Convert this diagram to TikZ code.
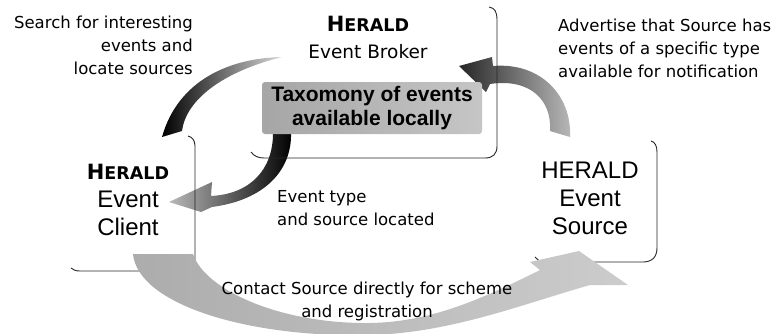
\documentclass[tikz,border=0pt]{standalone}
\usepackage{fontspec}
\setmainfont{DejaVu Sans}
\newfontfamily\arialfont{Liberation Sans}
\usetikzlibrary{positioning}

\newcommand\heraldsc{{\rmfamily\bfseries\fontsize{21}{28}\selectfont H\fontsize{17.5}{28}\selectfont ERALD}}

\tikzset{
  boxline/.style={line width=0.9pt, black!85},
  note/.style={font=\fontsize{16.5}{23}\selectfont, inner sep=0pt},
  title/.style={font=\arialfont\fontsize{24}{28}\selectfont, align=center, inner sep=0pt}
}

\begin{document}
\begin{tikzpicture}[x=1pt,y=-1pt]
    \useasboundingbox (0,0) rectangle (772,333);

    % arrow: Source advertises to Broker
    \shade[left color=black!85, right color=gray!55]
        (550,131) .. controls (552,100) and (530,78) .. (490,84)
        -- (486,92) -- (459,66) -- (492,57) -- (493,66)
        .. controls (540,62) and (572,95) .. (570,137) -- cycle;

    % arrow: Broker back to Client
    \shade[left color=gray!55, middle color=black!80, right color=black]
        (273,133) -- (291,133)
        .. controls (292,170) and (265,200) .. (212,207)
        -- (201,212) -- (169,202) -- (212,182) -- (211,196)
        .. controls (250,194) and (273,170) .. (273,133);

    % arrow: Client searches at Broker
    \shade[left color=black, middle color=black, right color=gray!30]
        (282,57) .. controls (230,58) and (178,80) .. (162,137)
        -- (182,131) .. controls (186,100) and (222,72) .. (282,57);

    % box edges
    \draw[boxline] (489,7) .. controls (495,8) and (497,12) .. (497,20)
        -- (497,146) .. controls (497,154) and (493,158) .. (485,158)
        -- (264,158) .. controls (258,158) and (254,156) .. (251,152);
    \draw[boxline] (188,136) .. controls (192,137) and (195,140) .. (195,146)
        -- (195,258) .. controls (195,266) and (191,271) .. (183,271)
        -- (80,271) .. controls (76,271) and (73,270) .. (71,268);
    \draw[boxline] (651,141) .. controls (655,142) and (657,146) .. (657,152)
        -- (657,248) .. controls (657,257) and (652,262) .. (643,262)
        -- (545,262) .. controls (540,262) and (537,260) .. (535,257);

    % arrow: Client contacts Source
    \shade[left color=gray!65, right color=gray!40]
        (133,254) .. controls (138,305) and (250,338) .. (370,335)
        .. controls (450,333) and (520,305) .. (590,285)
        -- (628,285) -- (579,251) -- (530,262) -- (540,270)
        .. controls (480,300) and (430,322) .. (370,323)
        .. controls (280,324) and (205,290) .. (193,254) -- cycle;

    \node (tax) [rounded corners=3pt, left color=gray!70, right color=gray!45,
        minimum width=220, minimum height=52, align=center,
        font=\arialfont\bfseries\fontsize{21}{24}\selectfont]
        at (372,108) {Taxomony of events\\available locally};

    \node (broker) [font=\fontsize{18.5}{27}\selectfont, align=center, inner sep=0pt]
        at (368,37) {\heraldsc\\Event Broker};
    \node (client) [title] at (128,200) {\heraldsc\\Event\\Client};
    \node (source) [title] at (590,198) {HERALD\\Event\\Source};

    \node (search) [note, align=right, anchor=east] at (193,45)
        {Search for interesting\\events and\\locate sources};
    \node (advert) [note, align=left, anchor=west] at (558,48)
        {Advertise that Source has\\events of a specific type\\available for notification};
    \node (located) [note, align=left, anchor=west] at (277,208)
        {Event type\\and source located};
    \node (contact) [note, align=center] at (367,301)
        {Contact Source directly for scheme\\and registration};

\end{tikzpicture}
\end{document}
